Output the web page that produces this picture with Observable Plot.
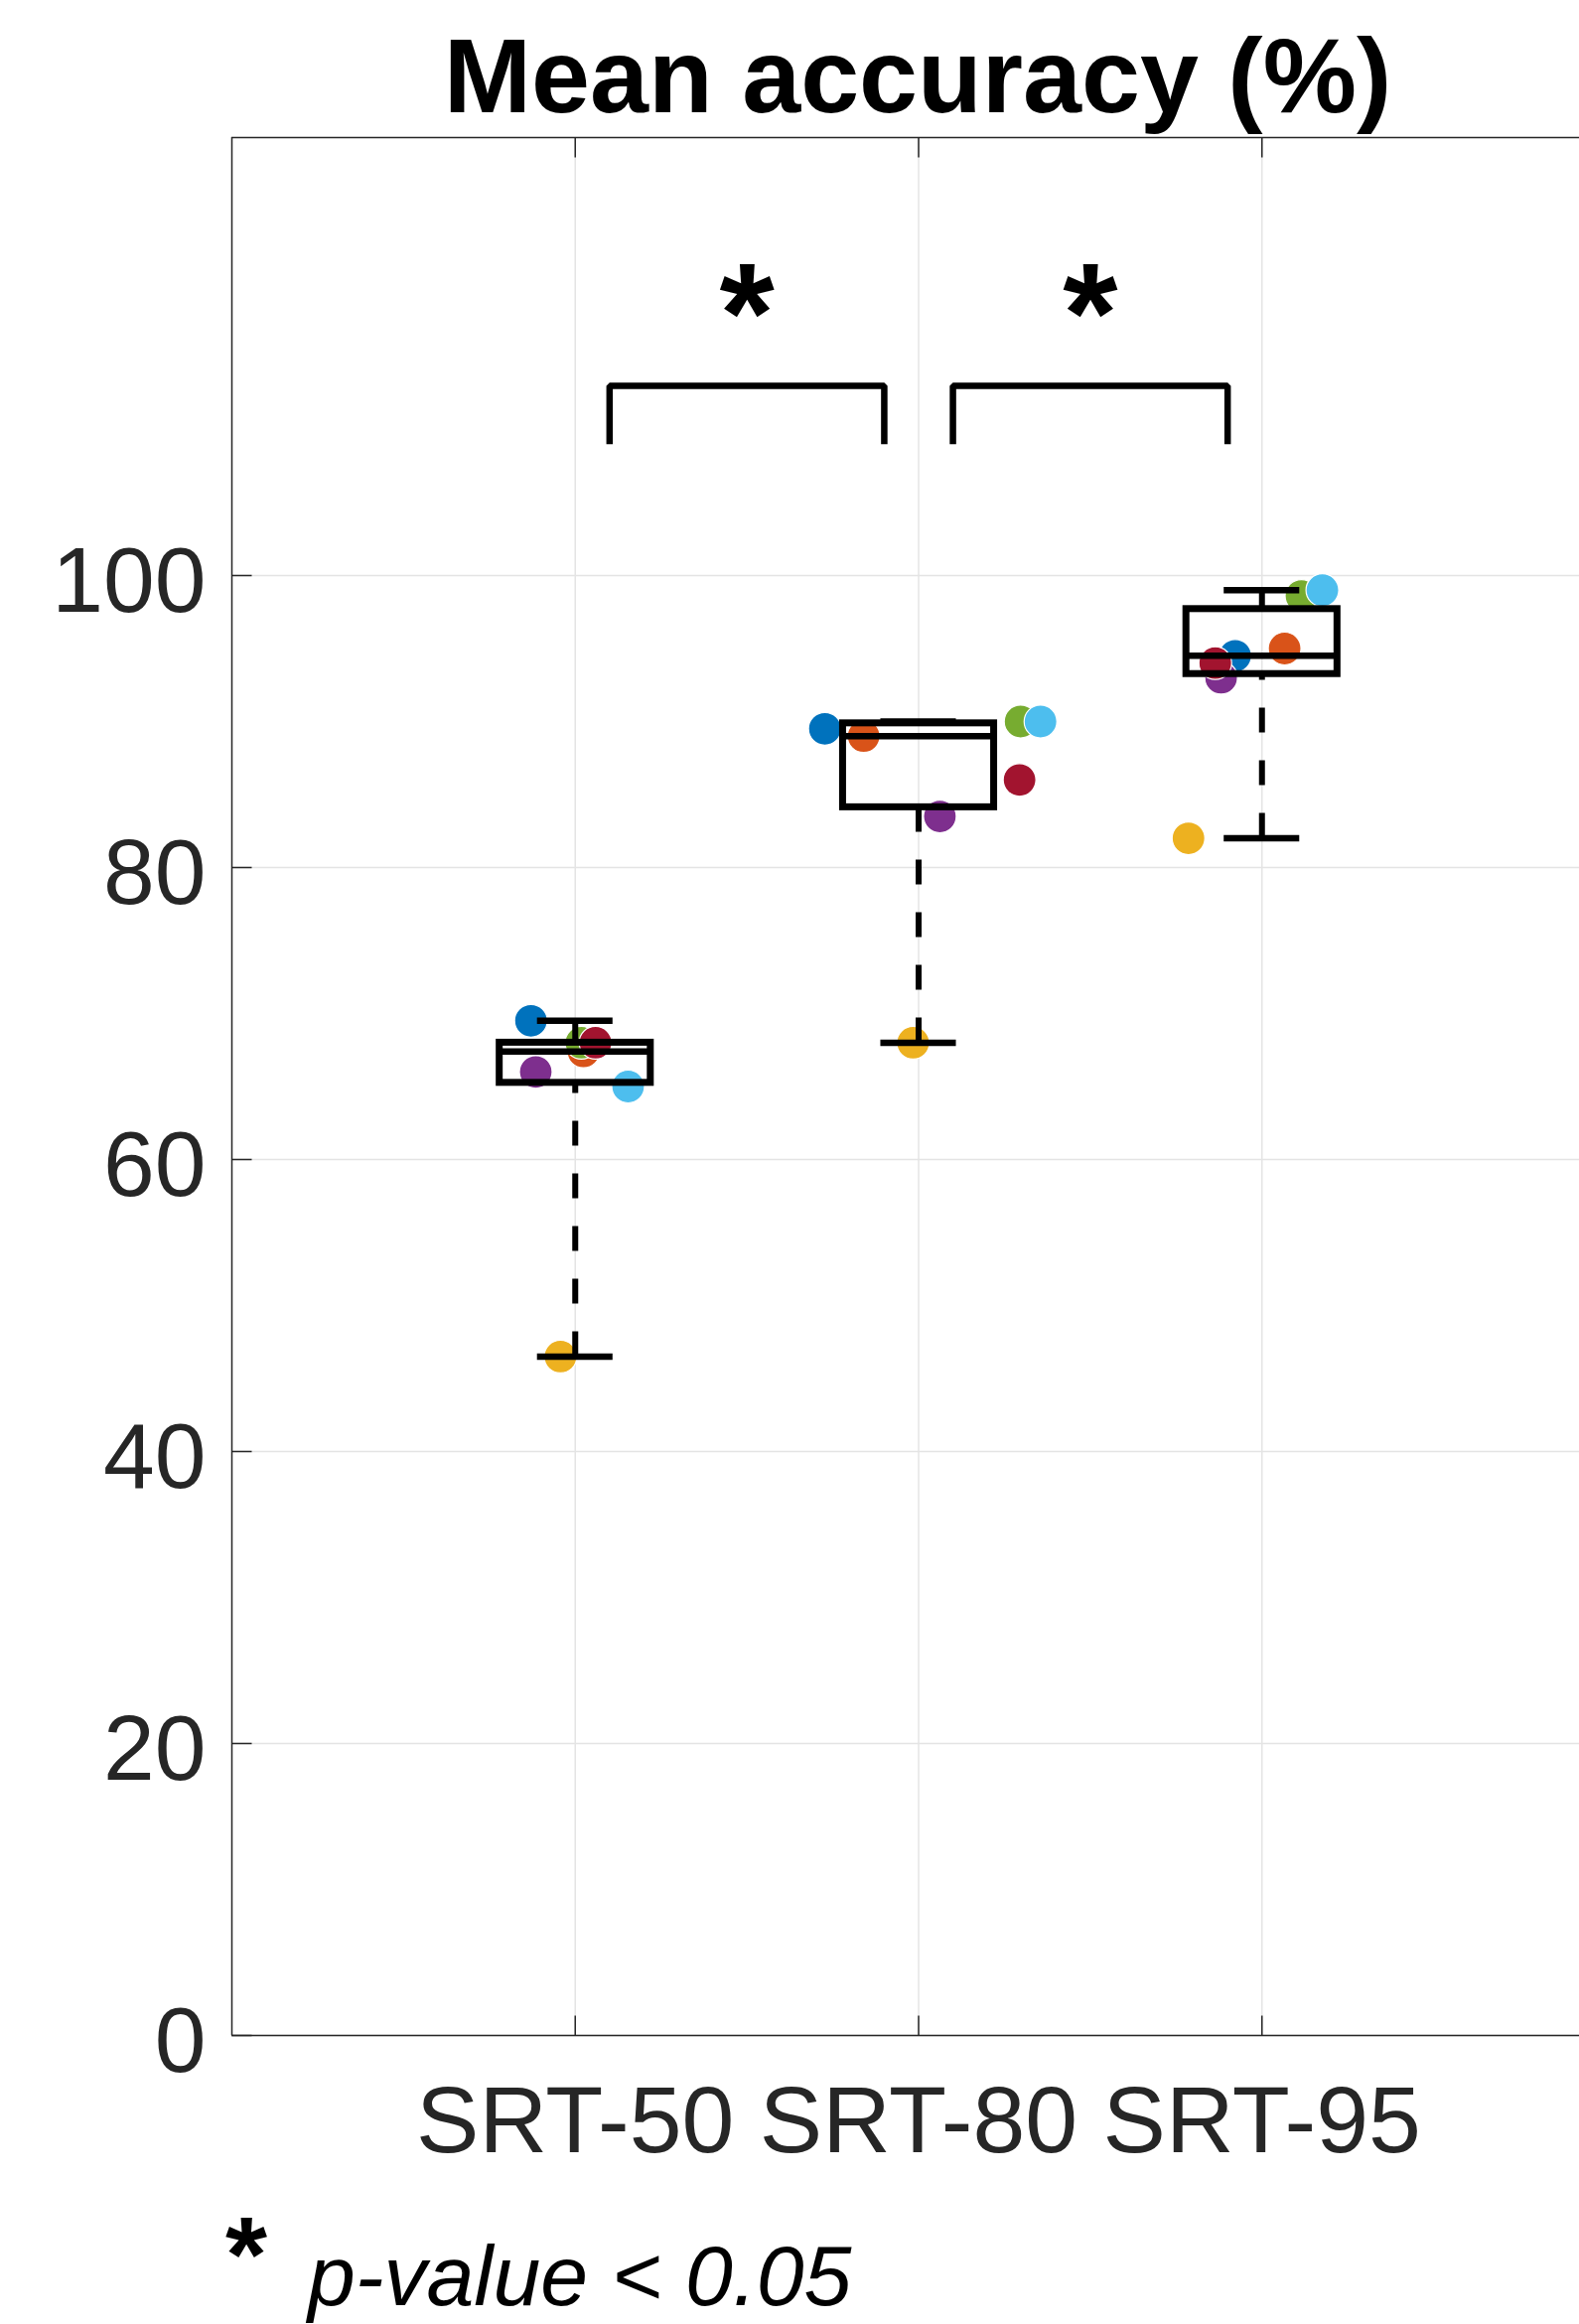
<!DOCTYPE html>
<html>
<head>
<meta charset="utf-8">
<script src="https://cdn.jsdelivr.net/npm/d3@7"></script>
<script src="https://cdn.jsdelivr.net/npm/@observablehq/plot@0.6"></script>
<style>
  html, body { margin: 0; padding: 0; background: #fff; overflow: hidden; }
  #fig { position: relative; width: 1590px; height: 2340px; font-family: "Liberation Sans", Arial, Helvetica, sans-serif; }
  #title { position: absolute; left: 924px; top: 23px; transform: translateX(-50%); font-size: 106px; font-weight: bold; line-height: 1; white-space: nowrap; color: #000; }
  #chart { position: absolute; left: 0; top: 136px; }
  #note-star { position: absolute; left: 227px; top: 2216px; font-size: 108px; font-weight: bold; line-height: 1; color: #000; }
  #note-text { position: absolute; left: 310px; top: 2248px; font-size: 86px; font-style: italic; line-height: 1; white-space: nowrap; color: #000; }
</style>
</head>
<body>
<div id="fig">
  <div id="title">Mean accuracy (%)</div>
  <div id="chart"></div>
  <div id="note-star">*</div>
  <div id="note-text">p-value &lt; 0.05</div>
</div>
<script>
// Conditions on the x axis (positions 1, 2, 3)
const conditions = ["SRT-50", "SRT-80", "SRT-95"];

// One colour per participant
const subjectColors = ["#0072BD", "#D95319", "#EDB120", "#7E2F8E", "#77AC30", "#4DBEEE", "#A2142F"];

// Mean accuracy (%) per participant, in participant order
const accSRT50 = [69.5, 67.4, 46.5, 66.0, 68.0, 65.0, 68.0];
const accSRT80 = [89.5, 89.0, 68.0, 83.5, 90.0, 90.0, 86.0];
const accSRT95 = [94.5, 95.0, 82.0, 93.0, 98.6, 99.0, 94.0];

// Horizontal jitter of each participant's dot around its condition
const jitterSRT50 = [-0.129, 0.024, -0.043, -0.115, 0.018, 0.154, 0.059];
const jitterSRT80 = [-0.273, -0.160, -0.016, 0.062, 0.297, 0.355, 0.294];
const jitterSRT95 = [-0.078, 0.066, -0.214, -0.119, 0.115, 0.176, -0.136];

// Y ticks
const yTicks = [0, 20, 40, 60, 80, 100];

// Significance brackets between neighbouring conditions
const brackets = [
  {from: 1.1, to: 1.9, base: 109, top: 113, label: "*"},
  {from: 2.1, to: 2.9, base: 109, top: 113, label: "*"}
];
const starLevel = 121.5;

const accuracy = [accSRT50, accSRT80, accSRT95];
const jitter = [jitterSRT50, jitterSRT80, jitterSRT95];

// Percentile as computed by MATLAB's prctile / boxplot
function prctile(values, p) {
  const s = [...values].sort((a, b) => a - b);
  const n = s.length;
  const pos = p * n + 0.5;
  if (pos <= 1) return s[0];
  if (pos >= n) return s[n - 1];
  const i = Math.floor(pos);
  return s[i - 1] + (pos - i) * (s[i] - s[i - 1]);
}

const stats = accuracy.map((vals, g) => ({
  x: g + 1,
  lo: d3.min(vals),
  q1: prctile(vals, 0.25),
  med: prctile(vals, 0.5),
  q3: prctile(vals, 0.75),
  hi: d3.max(vals)
}));

const points = [];
accuracy.forEach((vals, g) => vals.forEach((v, s) => {
  points.push({x: g + 1 + jitter[g][s], y: v, color: subjectColors[s]});
}));

const bracketPath = brackets.flatMap((b, i) => [
  {i, x: b.from, y: b.base},
  {i, x: b.from, y: b.top},
  {i, x: b.to, y: b.top},
  {i, x: b.to, y: b.base}
]);

const BOX_HALF = 0.22;
const CAP_HALF = 0.11;
const axisColor = "#262626";
const gridColor = "#e4e4e4";
const catIdx = conditions.map((_, i) => i + 1);

const chart = Plot.plot({
  width: 1590,
  height: 2053,
  marginTop: 2,
  marginBottom: 140,
  marginLeft: 233,
  marginRight: 0,
  style: {fontFamily: '"Liberation Sans", Arial, Helvetica, sans-serif', background: "transparent"},
  x: {domain: [0, 4], range: [233, 1616], label: null},
  y: {domain: [0, 130], range: [1913, 2], label: null},
  color: {type: "identity"},
  marks: [
    Plot.gridY(yTicks, {stroke: gridColor, strokeOpacity: 1, strokeWidth: 1.5}),
    Plot.gridX(catIdx, {stroke: gridColor, strokeOpacity: 1, strokeWidth: 1.5}),
    Plot.axisY(yTicks, {anchor: "left", tickSize: 0, tickPadding: 26, fontSize: 93, fill: axisColor, dy: 7, tickFormat: d => String(d)}),
    Plot.axisX(catIdx, {anchor: "bottom", tickSize: 0, tickPadding: 50, fontSize: 95, fill: axisColor, tickFormat: i => conditions[i - 1]}),
    // participant dots
    Plot.dot(points, {x: "x", y: "y", r: 16.5, fill: "color", stroke: "white", strokeWidth: 1.2}),
    // box plots
    Plot.ruleX(stats, {x: "x", y1: "lo", y2: "q1", stroke: "black", strokeWidth: 6, strokeDasharray: "25,28"}),
    Plot.ruleX(stats, {x: "x", y1: "hi", y2: "q3", stroke: "black", strokeWidth: 6, strokeDasharray: "25,28"}),
    Plot.ruleY(stats, {y: "lo", x1: d => d.x - CAP_HALF, x2: d => d.x + CAP_HALF, stroke: "black", strokeWidth: 6.5}),
    Plot.ruleY(stats, {y: "hi", x1: d => d.x - CAP_HALF, x2: d => d.x + CAP_HALF, stroke: "black", strokeWidth: 6.5}),
    Plot.rect(stats, {x1: d => d.x - BOX_HALF, x2: d => d.x + BOX_HALF, y1: "q1", y2: "q3", fill: "none", stroke: "black", strokeWidth: 7}),
    Plot.ruleY(stats, {y: "med", x1: d => d.x - BOX_HALF, x2: d => d.x + BOX_HALF, stroke: "black", strokeWidth: 6.5}),
    // significance brackets and stars
    Plot.line(bracketPath, {x: "x", y: "y", z: "i", stroke: "black", strokeWidth: 6.5, strokeLinejoin: "miter", strokeLinecap: "butt", curve: "linear"}),
    Plot.text(brackets, {x: d => (d.from + d.to) / 2, y: starLevel, text: "label", lineAnchor: "top", fontSize: 142, fontWeight: "bold", fill: "black"}),
    // axes box (left, bottom, top) with inward ticks
    Plot.ruleX([0], {stroke: axisColor, strokeWidth: 1.5}),
    Plot.ruleY([0, 130], {stroke: axisColor, strokeWidth: 1.5}),
    Plot.vector(yTicks, {x: 0, y: d => d, length: 20, rotate: 90, anchor: "start", r: 0, stroke: axisColor, strokeWidth: 1.5, strokeLinecap: "butt"}),
    Plot.vector(catIdx, {x: d => d, y: 0, length: 20, rotate: 0, anchor: "start", r: 0, stroke: axisColor, strokeWidth: 1.5, strokeLinecap: "butt"}),
    Plot.vector(catIdx, {x: d => d, y: 130, length: 20, rotate: 180, anchor: "start", r: 0, stroke: axisColor, strokeWidth: 1.5, strokeLinecap: "butt"})
  ]
});
document.getElementById("chart").appendChild(chart);
</script>
</body>
</html>
